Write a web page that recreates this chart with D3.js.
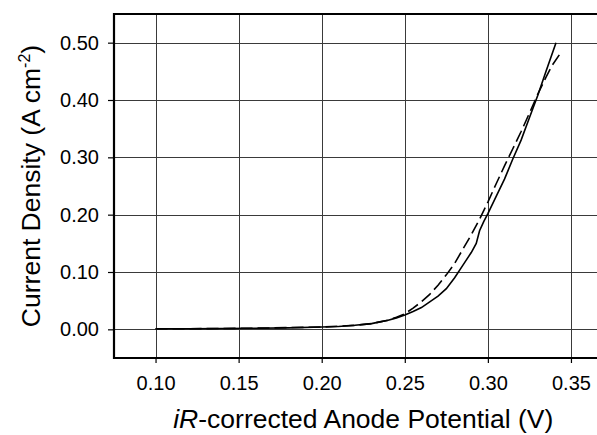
<!DOCTYPE html>
<html>
<head>
<meta charset="utf-8">
<script src="https://cdn.jsdelivr.net/npm/d3@7"></script>
<style>
  html, body { margin: 0; padding: 0; background: #fff; overflow: hidden; }
  svg { display: block; }
  text { font-family: "Liberation Sans", Arial, sans-serif; fill: #000; }
</style>
</head>
<body>
<svg id="chart" width="597" height="435"></svg>
<script>
// ---- data ----
const xTicks = [0.10, 0.15, 0.20, 0.25, 0.30, 0.35];
const yTicks = [0.00, 0.10, 0.20, 0.30, 0.40, 0.50];

const solidX = [0.10, 0.12, 0.14, 0.16, 0.18, 0.20, 0.21, 0.22, 0.23, 0.235, 0.24, 0.245, 0.25, 0.255, 0.26, 0.265, 0.27, 0.275, 0.28, 0.285, 0.29, 0.293, 0.295, 0.2975, 0.30, 0.305, 0.31, 0.315, 0.32, 0.325, 0.33, 0.335, 0.341];
const solidY = [0.001, 0.001, 0.0015, 0.002, 0.0025, 0.004, 0.005, 0.007, 0.010, 0.013, 0.016, 0.020, 0.025, 0.031, 0.038, 0.048, 0.058, 0.071, 0.090, 0.112, 0.134, 0.150, 0.172, 0.188, 0.202, 0.232, 0.262, 0.297, 0.330, 0.369, 0.408, 0.450, 0.500];

const dashX = [0.10, 0.12, 0.14, 0.16, 0.18, 0.20, 0.22, 0.23, 0.24, 0.245, 0.25, 0.255, 0.26, 0.265, 0.27, 0.275, 0.28, 0.285, 0.29, 0.295, 0.30, 0.305, 0.31, 0.315, 0.32, 0.325, 0.33, 0.335, 0.3386, 0.3435];
const dashY = [0.001, 0.001, 0.0015, 0.002, 0.003, 0.004, 0.007, 0.010, 0.016, 0.021, 0.027, 0.037, 0.048, 0.061, 0.077, 0.095, 0.115, 0.140, 0.165, 0.192, 0.222, 0.254, 0.285, 0.315, 0.345, 0.377, 0.410, 0.440, 0.460, 0.481];

const xTitle = "-corrected Anode Potential (V)";
const yTitle = "Current Density (A cm";

// ---- scales ----
const svg = d3.select("#chart");
const x = d3.scaleLinear().domain([0.075, 0.375]).range([114, 612.5]);
const y = d3.scaleLinear().domain([-0.05, 0.55]).range([358, 14]);
const x0 = x.range()[0], x1 = x.range()[1], y0 = y.range()[0], y1 = y.range()[1];

// gridlines
const grid = svg.append("g").attr("stroke", "#3a3a3a").attr("stroke-width", 1).attr("shape-rendering", "crispEdges");
grid.selectAll("line.v").data(xTicks).join("line")
  .attr("x1", d => Math.round(x(d)) + 0.5).attr("x2", d => Math.round(x(d)) + 0.5)
  .attr("y1", y1).attr("y2", y0);
grid.selectAll("line.h").data(yTicks).join("line")
  .attr("y1", d => Math.round(y(d)) + 0.5).attr("y2", d => Math.round(y(d)) + 0.5)
  .attr("x1", x0).attr("x2", x1);

// axes
const xAxis = d3.axisBottom(x).tickValues(xTicks).tickFormat(d3.format(".2f")).tickSize(5).tickSizeOuter(0).tickPadding(13);
const yAxis = d3.axisLeft(y).tickValues(yTicks).tickFormat(d3.format(".2f")).tickSize(6).tickSizeOuter(0).tickPadding(9);

const gx = svg.append("g").attr("transform", `translate(0,${y0})`).call(xAxis);
const gy = svg.append("g").attr("transform", `translate(${x0},0)`).call(yAxis);
[gx, gy].forEach(g => {
  g.attr("font-family", null).attr("font-size", null);
  g.select(".domain").remove();
  g.selectAll(".tick line").attr("stroke", "#000").attr("stroke-width", 1.2);
  g.selectAll(".tick text").attr("font-size", 20).attr("font-family", "Liberation Sans, Arial, sans-serif").attr("fill", "#000");
});

// border (left, top, bottom)
svg.append("path")
  .attr("d", `M${x1},${y1}H${x0}V${y0}H${x1}`)
  .attr("fill", "none").attr("stroke", "#000").attr("stroke-width", 2.2);

// series
const line = d3.line().x(d => x(d[0])).y(d => y(d[1]));
const solid = solidX.map((v, i) => [v, solidY[i]]);
const dashed = dashX.map((v, i) => [v, dashY[i]]);

svg.append("path").datum(dashed).attr("d", line)
  .attr("fill", "none").attr("stroke", "#000").attr("stroke-width", 1.6)
  .attr("stroke-dasharray", "12,5");
svg.append("path").datum(solid).attr("d", line)
  .attr("fill", "none").attr("stroke", "#000").attr("stroke-width", 1.6);

// axis titles
const xt = svg.append("text")
  .attr("x", (x0 + x1) / 2).attr("y", 428)
  .attr("text-anchor", "middle").attr("font-size", 26.5);
xt.append("tspan").attr("font-style", "italic").text("iR");
xt.append("tspan").text(xTitle);

const yt = svg.append("text")
  .attr("transform", `translate(40,${(y0 + y1) / 2}) rotate(-90)`)
  .attr("text-anchor", "middle").attr("font-size", 26.5);
yt.append("tspan").text(yTitle);
yt.append("tspan").attr("font-size", 16).attr("dy", -10).text("-2");
yt.append("tspan").attr("dy", 10).text(")");
</script>
</body>
</html>
